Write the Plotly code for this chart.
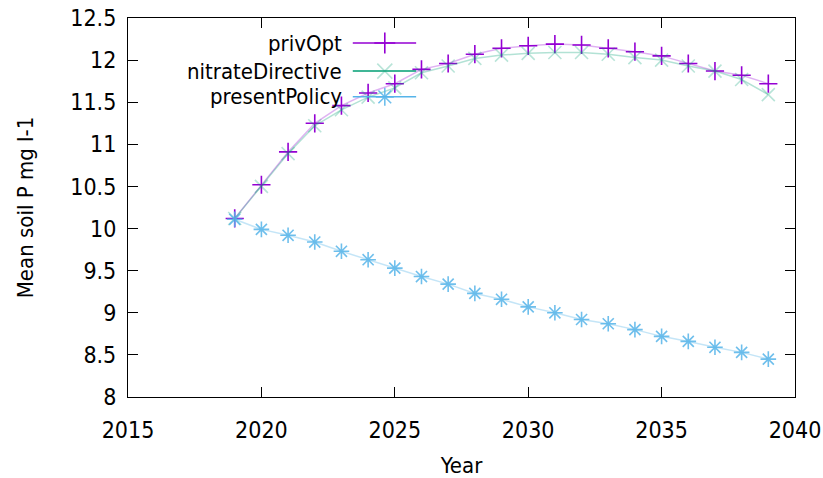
import plotly.graph_objects as go

# Simulated mean soil P under three policy scenarios
years = list(range(2019, 2040))
priv_opt = [10.12, 10.52, 10.91, 11.25, 11.46, 11.61, 11.72, 11.89, 11.96, 12.07, 12.14,
            12.17, 12.19, 12.18, 12.14, 12.10, 12.05, 11.96, 11.87, 11.82, 11.72]
nitrate_directive = [10.12, 10.50, 10.89, 11.22, 11.41, 11.56, 11.67, 11.85, 11.93, 12.02, 12.06,
                     12.08, 12.09, 12.09, 12.07, 12.03, 12.00, 11.93, 11.87, 11.77, 11.59]
present_policy = [10.11, 9.99, 9.92, 9.84, 9.73, 9.63, 9.53, 9.43, 9.34, 9.23, 9.16,
                  9.07, 9.00, 8.92, 8.87, 8.80, 8.72, 8.66, 8.59, 8.53, 8.45]

series_names = ["privOpt", "nitrateDirective", "presentPolicy"]
x_ticks = [2015, 2020, 2025, 2030, 2035, 2040]
y_ticks = [8, 8.5, 9, 9.5, 10, 10.5, 11, 11.5, 12, 12.5]
y_tick_text = ["8", "8.5", "9", "9.5", "10", "10.5", "11", "11.5", "12", "12.5"]

FONT = "DejaVu Sans Condensed, DejaVu Sans, sans-serif"
FSIZE = 23
MSIZE = 13

styles = [
    dict(line="rgba(148,0,211,0.30)", marker="#9400d3", symbol="cross-thin-open",
         key_line="#9400d3", key_marker="#9400d3"),
    dict(line="rgba(0,158,115,0.30)", marker="rgba(0,158,115,0.28)", symbol="x-thin-open",
         key_line="#009e73", key_marker="rgba(0,158,115,0.28)"),
    dict(line="rgba(86,180,233,0.35)", marker="rgba(86,180,233,0.85)", symbol="asterisk-open",
         key_line="#56b4e9", key_marker="rgba(86,180,233,0.85)"),
]
data = [priv_opt, nitrate_directive, present_policy]

fig = go.Figure()
for name, vals, st in zip(series_names, data, styles):
    fig.add_trace(go.Scatter(
        x=years, y=vals, name=name, mode="lines+markers",
        line=dict(color=st["line"], width=1.5),
        marker=dict(symbol=st["symbol"], size=MSIZE, color=st["marker"],
                    line=dict(color=st["marker"], width=1.6)),
        showlegend=False,
    ))

# Key: right-aligned labels followed by a line sample with the series marker
key_rows = [0.934, 0.860, 0.792]
key_x0, key_x1, key_xm = 0.337, 0.432, 0.385
for name, st, ky in zip(series_names, styles, key_rows):
    fig.add_annotation(x=0.324, y=ky, xref="paper", yref="paper", text=name,
                       showarrow=False, xanchor="right", yanchor="middle",
                       font=dict(family=FONT, size=FSIZE - 1, color="#000000"))
    fig.add_shape(type="line", xref="paper", yref="paper", x0=key_x0, x1=key_x1,
                  y0=ky, y1=ky, line=dict(color=st["key_line"], width=1.5))
    fig.add_trace(go.Scatter(
        x=[key_xm], y=[ky], xaxis="x2", yaxis="y2", mode="markers",
        marker=dict(symbol=st["symbol"], size=MSIZE + 2, color=st["key_marker"],
                    line=dict(color=st["key_marker"], width=1.6)),
        showlegend=False, hoverinfo="skip",
    ))

axis_common = dict(showgrid=False, zeroline=False, showline=True, linecolor="#000000",
                   linewidth=1.2, mirror="allticks", ticks="inside", ticklen=10,
                   tickcolor="#000000", tickwidth=1.2, automargin=False,
                   tickfont=dict(family=FONT, size=FSIZE, color="#000000"))

fig.update_layout(
    width=823, height=478,
    margin=dict(l=128, r=28, t=18, b=81),
    paper_bgcolor="#ffffff", plot_bgcolor="#ffffff",
    xaxis=dict(range=[2015, 2040], tickvals=x_ticks, ticktext=[str(t) for t in x_ticks],
               ticklabelstandoff=12,
               title=dict(text="Year", font=dict(family=FONT, size=FSIZE - 1, color="#000000"), standoff=20),
               **axis_common),
    yaxis=dict(range=[8, 12.5], tickvals=y_ticks, ticktext=y_tick_text,
               ticklabelstandoff=6,
               title=dict(text="Mean soil P mg l-1", font=dict(family=FONT, size=FSIZE - 1, color="#000000"), standoff=30),
               **axis_common),
    xaxis2=dict(range=[0, 1], overlaying="x", visible=False, fixedrange=True),
    yaxis2=dict(range=[0, 1], overlaying="y", visible=False, fixedrange=True),
)

fig.write_html("out.html")
